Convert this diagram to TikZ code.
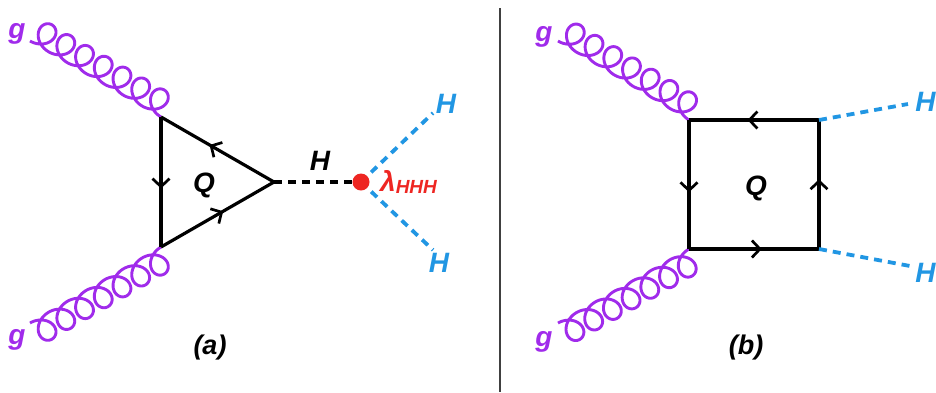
\documentclass[tikz,border=0pt]{standalone}
\usepackage{fontspec}
\setmainfont{Liberation Sans}
\usetikzlibrary{decorations.markings,arrows.meta,calc}
\definecolor{gluon}{HTML}{A02BEB}
\definecolor{higgs}{HTML}{2196E3}
\definecolor{vert}{HTML}{EE2622}
\tikzset{
  gluonline/.style={gluon,line width=2.9pt,line join=round},
  quark/.style={black,line width=3.2pt,postaction={decorate},decoration={markings,mark=at position #1 with {\arrow[line width=2.7pt]{Straight Barb[length=8pt,width=17pt]}}}},
  quark/.default=0.56,
  scalarb/.style={black,line width=3.2pt,dash pattern=on 8pt off 6pt},
  scalarh/.style={higgs,line width=3.8pt,dash pattern=on 8pt off 6pt},
  lab/.style={font=\bfseries\itshape\fontsize{#1}{#1}\selectfont,inner sep=0pt},
  lab/.default=28pt,
}
% gluon from #1 to #2, loops on side #3 (-1 or 1)
\newcommand\gluonpath[3]{%
  \path let \p1=($(#2)-(#1)$), \n1={veclen(\x1,\y1)}, \n2={atan2(\y1,\x1)} in
    \pgfextra{\pgfmathsetmacro\gluonlen{\n1}\pgfmathsetmacro\gluonang{\n2}\global\let\gluonlen\gluonlen\global\let\gluonang\gluonang};
  \pgfmathsetmacro\gluona{\gluonlen/(14*pi)}
  \draw[gluonline,shift={(#1)},rotate=\gluonang] plot[domain=3.14159:47.1239,samples=420,smooth]
    ({\gluona*(\x-pi)-13.5*sin(\x r)},{#3*12.5*(1+cos(\x r))});
}
\begin{document}
\begin{tikzpicture}[x=1pt,y=-1pt]
\useasboundingbox (0,0) rectangle (936,392);
% divider
\coordinate (dt) at (500,8); \coordinate (db) at (500,392);
\draw[line width=1.7pt,black!75] (dt) -- (db);
% panel a
\coordinate (a1) at (161,117);
\coordinate (a2) at (161,247);
\coordinate (a3) at (274,182);
\coordinate (gA) at (30,41);
\coordinate (gB) at (30,323);
\coordinate (v) at (361,182);
\coordinate (hA) at (433,113);
\coordinate (hB) at (433,250);
\gluonpath{gA}{a1}{-1}
\gluonpath{gB}{a2}{1}
\draw[quark=0.57] (a3) -- (a1);
\draw[quark=0.55] (a1) -- (a2);
\draw[quark=0.55] (a2) -- (a3);
\draw[scalarb] (a3) -- (v);
\draw[scalarh] (v) -- (hA);
\draw[scalarh] (v) -- (hB);
\node[circle,fill=vert,minimum size=17pt,inner sep=0pt] (vd) at (v) {};
\node[lab,text=gluon] (tg1) at (17,34) {g};
\node[lab,text=gluon] (tg2) at (17,340) {g};
\node[lab=28pt] (tq1) at (204,185) {Q};
\node[lab=28pt] (th0) at (320,161) {H};
\node[lab,text=higgs] (th1) at (446,104) {H};
\node[lab,text=higgs] (th2) at (439,263) {H};
\node[text=vert,inner sep=0pt,anchor=base west] (tl) at (380,191) {\bfseries\itshape\fontsize{28}{28}\selectfont λ\fontsize{19}{19}\selectfont\raisebox{-2pt}{HHH}};
\node[lab=27pt] (ta) at (210,348) {(a)};
% panel b
\coordinate (b1) at (689,120);
\coordinate (b2) at (689,249);
\coordinate (b3) at (819,249);
\coordinate (b4) at (819,120);
\coordinate (gC) at (558,41);
\coordinate (gD) at (558,323);
\coordinate (hC) at (908,104);
\coordinate (hD) at (910,266);
\gluonpath{gC}{b1}{-1}
\gluonpath{gD}{b2}{1}
\draw[quark=0.55] (b4) -- (b1);
\draw[quark=0.56] (b1) -- (b2);
\draw[quark=0.56] (b2) -- (b3);
\draw[quark=0.54] (b3) -- (b4);
\draw[scalarh] (b4) -- (hC);
\draw[scalarh] (b3) -- (hD);
\node[lab,text=gluon] (tg3) at (544,37) {g};
\node[lab,text=gluon] (tg4) at (544,342) {g};
\node[lab=28pt] (tq2) at (756,188) {Q};
\node[lab,text=higgs] (th3) at (925.5,102) {H};
\node[lab,text=higgs] (th4) at (925.5,273) {H};
\node[lab=27pt] (tb) at (746,348) {(b)};
\end{tikzpicture}
\end{document}
